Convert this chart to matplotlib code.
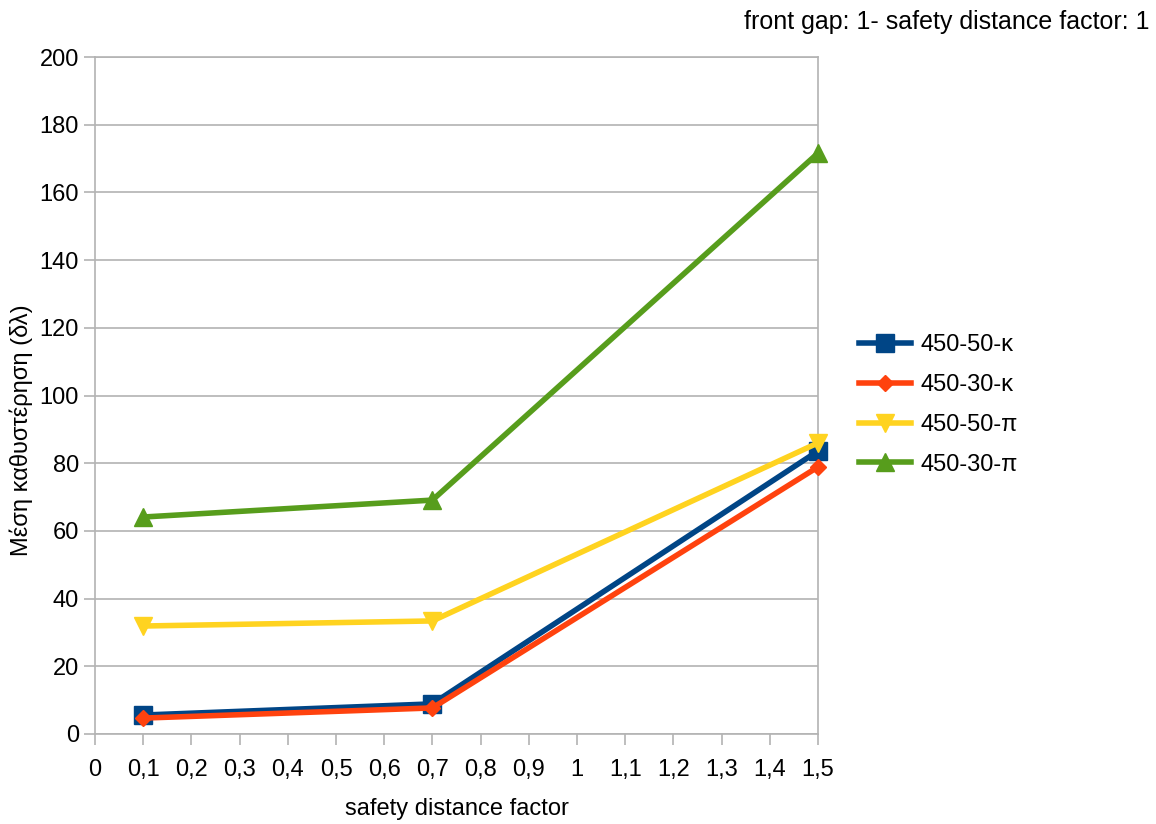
import matplotlib
matplotlib.use("Agg")
import matplotlib.pyplot as plt
from matplotlib.ticker import MultipleLocator, FuncFormatter

plt.rcParams['font.family'] = ['Liberation Sans', 'DejaVu Sans']

x = [0.1, 0.7, 1.5]
series_names = ['450-50-κ', '450-30-κ', '450-50-π', '450-30-π']
s_450_50_k = [5.6, 8.9, 83.6]
s_450_30_k = [4.7, 7.7, 78.9]
s_450_50_p = [31.9, 33.4, 86.0]
s_450_30_p = [64.1, 69.1, 171.6]
colors = ['#004586', '#ff420e', '#ffd320', '#579d1c']
markers = ['s', 'D', 'v', '^']
msizes = [13, 8, 13, 13]

fig = plt.figure(figsize=(11.56, 8.24), dpi=100)
ax = fig.add_axes([95/1156, 1 - 734/824, (818-95)/1156, (734-57)/824])

for vals, name, c, m, ms in zip([s_450_50_k, s_450_30_k, s_450_50_p, s_450_30_p],
                                series_names, colors, markers, msizes):
    ax.plot(x, vals, color=c, lw=4, marker=m, markersize=ms, label=name,
            clip_on=False, zorder=3)

ax.set_xlim(0, 1.5)
ax.set_ylim(0, 200)
ax.xaxis.set_major_locator(MultipleLocator(0.1))
ax.yaxis.set_major_locator(MultipleLocator(20))

def comma_fmt(v, pos):
    s = f"{v:.1f}".rstrip('0').rstrip('.')
    return s.replace('.', ',')

ax.xaxis.set_major_formatter(FuncFormatter(comma_fmt))
ax.grid(axis='y', color='#b3b3b3', lw=1.2)
ax.set_axisbelow(True)
for sp in ax.spines.values():
    sp.set_color('#b3b3b3')
    sp.set_linewidth(1.2)
ax.tick_params(axis='both', colors='#b3b3b3', labelcolor='black', labelsize=17,
               length=8, width=1.2, direction='out')
ax.tick_params(axis='x', pad=10)

ax.set_xlabel('safety distance factor', fontsize=17, labelpad=12)
fig.text(21/1156, 1 - 430/824, 'Μέση καθυστέρηση (δλ)', rotation=90,
         ha='center', va='center', fontsize=17)

fig.text(1150/1156, 1 - 22/824, 'front gap: 1- safety distance factor: 1',
         ha='right', va='center', fontsize=18)

leg = ax.legend(loc='center left', bbox_to_anchor=(838/1156, 1 - 405/824),
                bbox_transform=fig.transFigure, frameon=False, fontsize=17,
                handlelength=2.2, labelspacing=0.75, handletextpad=0.4)

fig.savefig('out.png', dpi=100)
